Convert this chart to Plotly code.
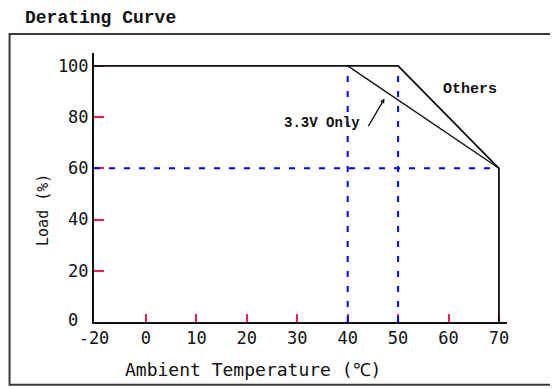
import plotly.graph_objects as go

# ---- data ----
others_temp = [-20, 50, 70, 70]
others_load = [100, 100, 60, 0]
v33_temp = [40, 70]
v33_load = [100, 60]
ref_h_temp = [-20, 70]
ref_h_load = [60, 60]
ref_v_temps = [40, 50]
ref_v_load = [0, 100]
x_tick_labels = [-20, 0, 10, 20, 30, 40, 50, 60, 70]
y_tick_labels = [20, 40, 60, 80, 100]

# broken x axis: the -20..0 span is drawn as one 10-degree interval
NEG = 10.31 / 20.0
def pos(t):
    return t if t >= 0 else t * NEG

def P(ts):
    return [pos(t) for t in ts]

FONT = "DejaVu Sans Mono"
TFONT = "Liberation Mono"
BLUE = "#0000ff"
RED = "#ff1a4a"

fig = go.Figure()

# blue dashed reference lines
fig.add_trace(go.Scatter(x=P(ref_h_temp), y=ref_h_load, mode="lines",
                         line=dict(color=BLUE, width=2, dash="6px,9px"),
                         hoverinfo="skip", showlegend=False))
for t in ref_v_temps:
    fig.add_trace(go.Scatter(x=P([t, t]), y=ref_v_load, mode="lines",
                             line=dict(color=BLUE, width=2, dash="6px,9px"),
                             hoverinfo="skip", showlegend=False))

# derating curves
fig.add_trace(go.Scatter(x=P(v33_temp), y=v33_load, mode="lines",
                         line=dict(color="#111111", width=1.4),
                         showlegend=False, name="3.3V Only"))
fig.add_trace(go.Scatter(x=P(others_temp), y=others_load, mode="lines",
                         line=dict(color="#111111", width=1.8),
                         showlegend=False, name="Others"))

# page offset of the figure (body margin)
OFF = 8
W, H = 550, 381
L = 94 - OFF
T = 52.5 - OFF
B = H - (322.5 - OFF)
R = W - (507.3 - OFF)
pw = W - L - R
ph = H - T - B

def px_to_paper_x(px):
    return (px - OFF - L) / pw

def px_to_paper_y(py):
    return (H - B - (py - OFF)) / ph

fig.update_layout(
    width=W, height=H,
    margin=dict(l=L, r=R, t=T, b=B, pad=0),
    paper_bgcolor="white", plot_bgcolor="white",
    font=dict(family=FONT, size=16, color="#111111"),
    showlegend=False,
    title=dict(text="Derating Curve", x=(25 - OFF) / W, xanchor="left", xref="container",
               y=1 - (16.5 - OFF) / H, yanchor="middle", yref="container",
               font=dict(family=TFONT, size=18, color="#111111", weight="bold")),
    xaxis=dict(range=[pos(-20), 71.6], tickmode="array",
               tickvals=P(x_tick_labels), ticktext=[str(v) for v in x_tick_labels],
               ticks="inside", ticklen=8, tickwidth=1.5, tickcolor=RED,
               showline=True, linecolor="#111111", linewidth=2,
               showgrid=False, zeroline=False, layer="below traces",
               tickfont=dict(family=FONT, size=17, color="#111111")),
    yaxis=dict(range=[0, 105], tickmode="array",
               tickvals=y_tick_labels, ticktext=[str(v) for v in y_tick_labels],
               ticks="inside", ticklen=10, tickwidth=1.5, tickcolor=RED,
               showline=True, linecolor="#111111", linewidth=2,
               showgrid=False, zeroline=False, layer="below traces",
               tickfont=dict(family=FONT, size=17, color="#111111")),
    shapes=[dict(type="rect", xref="paper", yref="paper",
                 x0=px_to_paper_x(9.5), x1=px_to_paper_x(570),
                 y0=px_to_paper_y(385.5), y1=px_to_paper_y(33.5),
                 line=dict(color="#3a3a3a", width=2), layer="below")],
    annotations=[
        dict(text="0", xref="paper", x=px_to_paper_x(73), yref="y", y=0,
             yshift=2, showarrow=False, xanchor="center", yanchor="middle",
             font=dict(family=FONT, size=17)),
        dict(text="Load (%)", xref="paper", x=px_to_paper_x(43), yref="paper",
             y=px_to_paper_y(210), textangle=-90, showarrow=False,
             xanchor="center", yanchor="middle", font=dict(family=FONT, size=15)),
        dict(text="Ambient Temperature (℃)", xref="paper", x=px_to_paper_x(253),
             yref="paper", y=px_to_paper_y(370), showarrow=False,
             xanchor="center", yanchor="middle", font=dict(family=FONT, size=18)),
        dict(text="Others", x=pos(64.2), y=90.7, showarrow=False,
             xanchor="center", yanchor="middle",
             font=dict(family=TFONT, size=15, weight="bold")),
        dict(text="3.3V Only", x=pos(35.0), y=77.5, showarrow=False,
             xanchor="center", yanchor="middle",
             font=dict(family=TFONT, size=14, weight="bold")),
        dict(text="", x=pos(47.3), y=87.2, showarrow=True, ax=-17, ay=29,
             arrowhead=2, arrowsize=0.7, arrowwidth=1.3, arrowcolor="#111111"),
    ],
)

fig.write_html("out.html")
